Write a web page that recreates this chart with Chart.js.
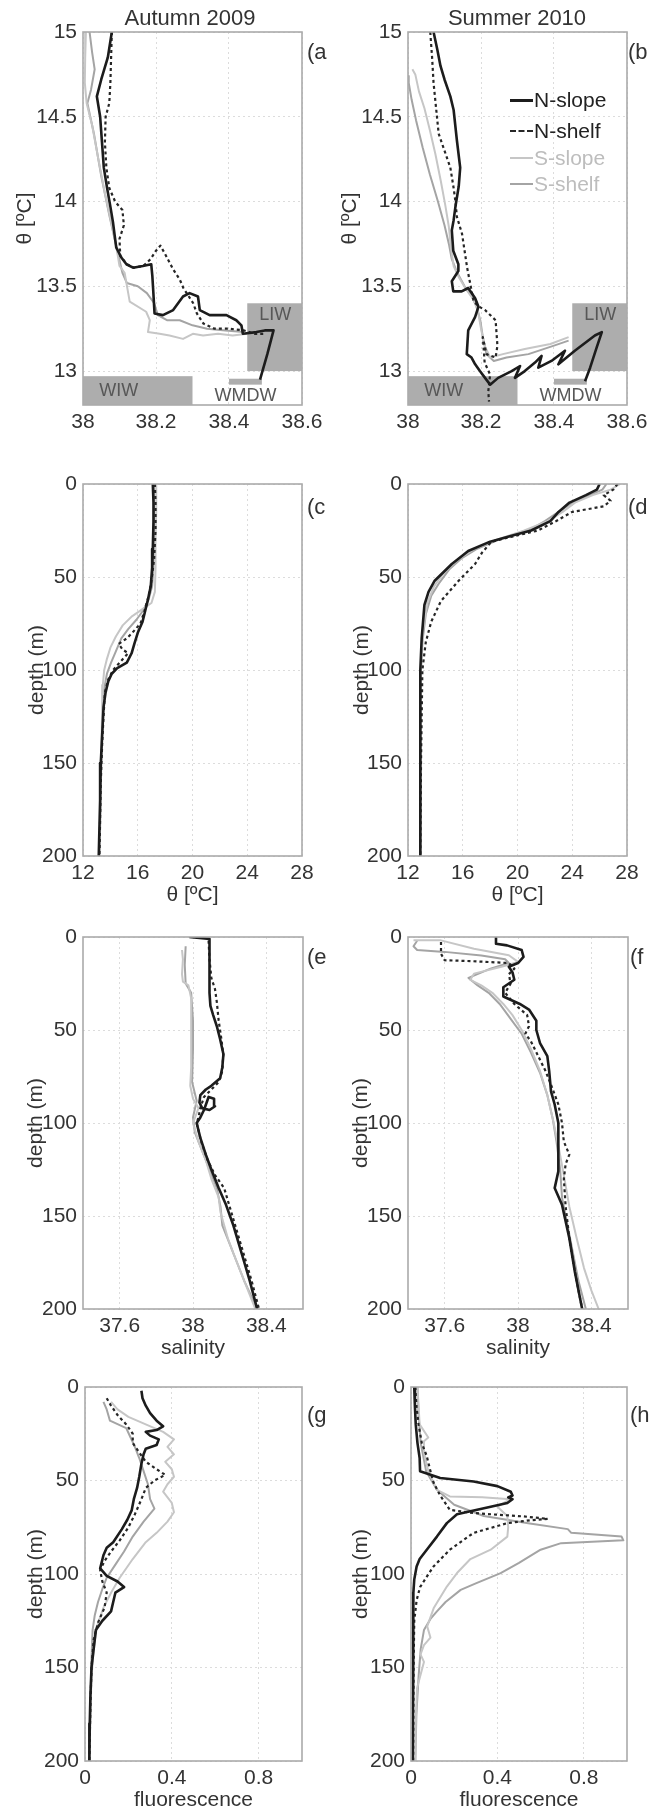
<!DOCTYPE html>
<html><head><meta charset="utf-8">
<script src="https://cdn.jsdelivr.net/npm/chart.js@4.4.1/dist/chart.umd.min.js"></script>
<style>
html,body{margin:0;padding:0;background:#fff}
body{width:655px;height:1814px;position:relative;overflow:hidden;font-family:"Liberation Sans",Arial,sans-serif;color:#333}
canvas{position:absolute}
.t{position:absolute;white-space:nowrap;line-height:26px}
</style></head><body>
<script>
// ---------- tick labels ----------
const thetaTicksTS = [13, 13.5, 14, 14.5, 15];
const salTicksTS = [38, 38.2, 38.4, 38.6];
const depthTicks = [0, 50, 100, 150, 200];
const thetaTicks = [12, 16, 20, 24, 28];
const salTicks = [37.6, 38, 38.4];
const fluoTicks = [0, 0.4, 0.8];

// ---------- categories ----------
const seriesNames = ['N-slope', 'N-shelf', 'S-slope', 'S-shelf'];
const columnTitles = ['Autumn 2009', 'Summer 2010'];
const waterMassNames = ['WIW', 'LIW', 'WMDW'];
const waterMassSal = [[38.0, 38.3], [38.45, 38.6], [38.4, 38.49]];
const waterMassTheta = [[12.7, 12.97], [13.0, 13.4], [12.92, 12.955]];

// ---------- (a) theta-S, Autumn 2009 : [salinity, theta] ----------
const aNslope = [[38.079,15.00],[38.068,14.85],[38.050,14.72],[38.038,14.62],[38.047,14.50],[38.052,14.35],[38.057,14.20],[38.066,14.08],[38.075,13.97],[38.082,13.88],[38.091,13.73],[38.105,13.67],[38.119,13.63],[38.137,13.61],[38.164,13.62],[38.187,13.63],[38.190,13.56],[38.192,13.49],[38.196,13.34],[38.219,13.33],[38.247,13.36],[38.274,13.44],[38.292,13.46],[38.315,13.44],[38.320,13.36],[38.347,13.33],[38.393,13.33],[38.420,13.30],[38.434,13.27],[38.438,13.22],[38.475,13.23],[38.498,13.24],[38.522,13.24],[38.505,13.10],[38.485,12.95]];
const aNshelf = [[38.079,15.00],[38.077,14.85],[38.075,14.70],[38.072,14.58],[38.062,14.50],[38.060,14.35],[38.064,14.20],[38.072,14.08],[38.088,14.00],[38.108,13.95],[38.112,13.86],[38.100,13.78],[38.102,13.68],[38.120,13.63],[38.140,13.61],[38.165,13.62],[38.185,13.66],[38.200,13.71],[38.212,13.74],[38.225,13.69],[38.247,13.60],[38.265,13.54],[38.275,13.49],[38.290,13.44],[38.302,13.40],[38.312,13.34],[38.330,13.28],[38.360,13.25],[38.400,13.25],[38.440,13.24],[38.470,13.22],[38.495,13.22]];
const aSslope = [[38.008,15.00],[38.006,14.85],[38.005,14.70],[38.010,14.58],[38.025,14.45],[38.042,14.25],[38.060,14.05],[38.075,13.90],[38.090,13.75],[38.100,13.62],[38.114,13.58],[38.123,13.47],[38.128,13.41],[38.173,13.35],[38.183,13.30],[38.178,13.23],[38.210,13.22],[38.237,13.21],[38.274,13.19],[38.301,13.22],[38.329,13.21],[38.370,13.22],[38.410,13.21],[38.450,13.22]];
const aSshelf = [[38.018,15.00],[38.025,14.88],[38.032,14.78],[38.022,14.66],[38.012,14.58],[38.030,14.40],[38.050,14.15],[38.072,13.92],[38.095,13.70],[38.108,13.58],[38.120,13.52],[38.150,13.50],[38.175,13.46],[38.195,13.40],[38.205,13.33],[38.230,13.30],[38.265,13.30],[38.300,13.27],[38.340,13.25],[38.390,13.24],[38.440,13.23]];

// ---------- (b) theta-S, Summer 2010 ----------
const bNslope = [[38.070,15.00],[38.080,14.90],[38.089,14.80],[38.100,14.72],[38.116,14.62],[38.125,14.54],[38.134,14.36],[38.143,14.20],[38.139,14.09],[38.130,13.97],[38.125,13.89],[38.120,13.83],[38.124,13.71],[38.138,13.63],[38.138,13.59],[38.120,13.53],[38.124,13.47],[38.147,13.47],[38.165,13.49],[38.184,13.43],[38.193,13.38],[38.184,13.32],[38.165,13.24],[38.161,13.10],[38.174,13.08],[38.184,13.04],[38.197,13.00],[38.211,12.96],[38.225,12.92],[38.247,12.96],[38.284,13.00],[38.307,13.03],[38.293,12.96],[38.320,13.00],[38.348,13.05],[38.366,13.09],[38.357,13.02],[38.393,13.06],[38.430,13.12],[38.412,13.04],[38.457,13.12],[38.512,13.21],[38.531,13.23],[38.517,13.14],[38.499,13.02],[38.485,12.94]];
const bNshelf = [[38.061,15.00],[38.066,14.85],[38.070,14.70],[38.077,14.55],[38.084,14.40],[38.100,14.30],[38.116,14.20],[38.125,14.08],[38.130,14.00],[38.134,13.91],[38.148,13.81],[38.155,13.71],[38.162,13.61],[38.171,13.51],[38.180,13.41],[38.195,13.38],[38.211,13.36],[38.240,13.30],[38.245,13.15],[38.240,13.08],[38.215,13.10],[38.205,13.20],[38.210,13.05],[38.225,12.98],[38.220,12.88],[38.222,12.82]];
const bSslope = [[38.012,14.78],[38.020,14.75],[38.030,14.65],[38.045,14.55],[38.060,14.42],[38.075,14.28],[38.090,14.12],[38.102,13.98],[38.112,13.85],[38.118,13.72],[38.125,13.62],[38.140,13.55],[38.160,13.48],[38.180,13.42],[38.192,13.35],[38.200,13.25],[38.210,13.15],[38.225,13.08],[38.260,13.10],[38.320,13.13],[38.390,13.16],[38.440,13.20]];
const bSshelf = [[38.000,14.74],[38.002,14.70],[38.010,14.60],[38.022,14.48],[38.040,14.32],[38.060,14.16],[38.082,14.00],[38.100,13.86],[38.112,13.75],[38.120,13.66],[38.135,13.58],[38.155,13.50],[38.175,13.44],[38.188,13.38],[38.198,13.30],[38.205,13.20],[38.215,13.10],[38.235,13.06],[38.270,13.08],[38.330,13.10],[38.400,13.15],[38.440,13.18]];

// ---------- (c) theta profile, Autumn 2009 : [theta, depth] ----------
const cNslope = [[17.1,0],[17.15,10],[17.15,20],[17.1,35],[17.05,45],[16.95,55],[16.75,62],[16.55,68],[16.35,74],[16.0,80],[15.75,86],[15.55,91],[15.2,96],[14.5,99],[14.1,102],[13.85,106],[13.65,112],[13.5,120],[13.4,135],[13.3,150],[13.25,170],[13.2,185],[13.15,200]];
const cNshelf = [[17.25,0],[17.3,10],[17.3,25],[17.2,40],[17.0,52],[16.8,60],[16.5,68],[16.2,75],[15.6,80],[15.2,83],[14.6,86],[14.9,89],[15.3,91],[14.8,95],[14.2,100],[13.85,105],[13.6,112],[13.5,125],[13.4,140],[13.3,160],[13.25,180],[13.2,200]];
const cSslope = [[17.35,0],[17.35,15],[17.3,30],[17.3,45],[17.25,58],[17.0,64],[16.4,67],[15.6,71],[14.9,76],[14.4,82],[14.0,88],[13.75,94],[13.55,100],[13.45,108],[13.4,120],[13.35,140],[13.3,160],[13.25,180],[13.2,200]];
const cSshelf = [[17.2,0],[17.2,15],[17.2,30],[17.15,45],[17.05,55],[16.8,62],[16.4,68],[15.9,73],[15.3,78],[14.8,83],[14.4,90],[14.05,96],[13.75,102],[13.55,110],[13.45,125],[13.35,145],[13.3,165],[13.25,185],[13.2,200]];

// ---------- (d) theta profile, Summer 2010 ----------
const dNslope = [[26.0,0],[25.8,3],[25.0,6],[23.8,10],[23.0,15],[22.4,20],[21.0,25],[19.5,28],[18.0,31],[16.4,36],[15.2,43],[13.95,52],[13.5,58],[13.2,65],[13.0,83],[12.9,100],[12.9,150],[12.9,200]];
const dNshelf = [[27.3,0],[27.0,3],[26.3,6],[26.8,9],[26.3,12],[24.0,15],[22.8,20],[21.5,25],[19.5,28.5],[18.1,31],[17.4,37],[16.9,43],[15.7,52],[14.4,63],[13.7,74],[13.3,85],[13.05,100],[12.95,150],[12.9,200]];
const dSslope = [[27.5,0],[26.8,3],[25.5,6],[24.2,10],[23.3,15],[22.2,20],[20.5,25],[18.5,30],[16.8,35],[15.6,41],[14.6,48],[13.9,55],[13.4,64],[13.1,78],[12.95,100],[12.9,200]];
const dSshelf = [[26.5,0],[26.2,3],[25.3,6],[24.0,10],[23.0,15],[22.0,20],[20.8,25],[18.6,30],[17.0,35],[15.9,40],[15.0,46],[14.3,53],[13.7,60],[13.3,70],[13.05,85],[12.95,100],[12.9,200]];

// ---------- (e) salinity profile, Autumn 2009 : [salinity, depth] ----------
const eNslope = [[37.98,0],[38.09,1],[38.09,10],[38.09,20],[38.09,30],[38.095,37],[38.11,42],[38.13,48],[38.148,55],[38.166,63],[38.16,70],[38.148,76],[38.1,80],[38.07,82],[38.04,85],[38.035,89],[38.05,92],[38.09,93],[38.12,91],[38.115,87],[38.085,86],[38.06,93],[38.04,97],[38.02,100],[38.04,108],[38.07,117],[38.1,125],[38.14,135],[38.18,144],[38.22,155],[38.25,165],[38.28,175],[38.31,185],[38.35,200]];
const eNshelf = [[38.085,2],[38.09,12],[38.1,22],[38.12,28],[38.13,35],[38.14,45],[38.155,55],[38.165,63],[38.16,72],[38.14,78],[38.1,82],[38.06,86],[38.04,92],[38.03,97],[38.02,100],[38.045,110],[38.08,120],[38.12,128],[38.17,135],[38.2,145],[38.23,155],[38.26,165],[38.29,175],[38.32,185],[38.36,200]];
const eSslope = [[37.94,7],[37.945,12],[37.94,20],[37.945,24],[37.975,26],[37.99,33],[37.99,50],[37.99,70],[37.985,80],[38.0,87],[38.03,92],[38.0,100],[38.03,110],[38.07,120],[38.1,130],[38.14,140],[38.15,148],[38.17,155],[38.19,162],[38.22,170],[38.26,180],[38.3,190],[38.34,200]];
const eSshelf = [[37.96,5],[37.955,15],[37.96,25],[37.99,30],[38.0,45],[38.0,60],[37.995,78],[38.02,88],[38.0,97],[38.01,105],[38.05,115],[38.09,125],[38.13,135],[38.15,145],[38.16,155],[38.2,165],[38.24,175],[38.28,185],[38.35,200]];

// ---------- (f) salinity profile, Summer 2010 ----------
const fNslope = [[37.88,0],[37.88,3.6],[37.94,4.5],[38.02,7],[38.03,10.7],[38.0,14],[37.95,16],[37.97,19],[37.98,23],[37.92,27],[37.92,32],[38.01,36],[38.06,39],[38.1,45],[38.1,50],[38.12,57],[38.16,64],[38.17,72],[38.18,83],[38.2,90],[38.22,100],[38.22,110],[38.22,126],[38.2,135],[38.24,144],[38.28,162],[38.31,180],[38.35,200]];
const fNshelf = [[37.58,2.7],[37.58,6],[37.58,9],[37.6,12.5],[37.75,13],[37.95,14],[37.98,17],[37.95,20],[37.96,25],[37.93,30],[37.98,36],[38.05,42],[38.06,48],[38.04,52],[38.07,56],[38.1,62],[38.15,72],[38.19,82],[38.22,90],[38.24,100],[38.25,110],[38.28,117],[38.26,122],[38.25,130],[38.26,145],[38.28,162],[38.31,180],[38.35,200]];
const fSslope = [[37.43,1.8],[37.58,1.8],[37.76,6.3],[37.95,9.8],[38.0,13.4],[37.91,16],[37.76,19.7],[37.74,23],[37.8,26],[37.86,30],[37.92,36],[37.97,42],[38.02,50],[38.07,60],[38.12,72],[38.16,85],[38.19,98],[38.22,112],[38.25,128],[38.28,145],[38.32,162],[38.36,178],[38.4,190],[38.44,200]];
const fSshelf = [[37.45,2],[37.43,5],[37.45,7],[37.6,8],[37.8,10],[37.93,12],[37.95,14],[37.85,17],[37.73,22],[37.78,26],[37.84,30],[37.9,36],[37.96,44],[38.02,52],[38.07,62],[38.12,73],[38.16,85],[38.19,98],[38.21,110],[38.23,125],[38.24,140],[38.27,155],[38.3,170],[38.33,185],[38.37,200]];

// ---------- (g) fluorescence, Autumn 2009 : [fluorescence, depth] ----------
const gNslope = [[0.26,2],[0.265,6],[0.28,10],[0.3,14],[0.33,18],[0.36,21],[0.33,23],[0.28,24],[0.3,26],[0.34,28],[0.33,31],[0.28,33],[0.27,36],[0.26,41],[0.25,48],[0.24,54],[0.225,60],[0.215,66],[0.195,71],[0.17,76],[0.13,83],[0.1,86],[0.085,90],[0.07,97],[0.1,101],[0.15,104],[0.18,107],[0.14,110],[0.13,115],[0.12,120],[0.08,125],[0.05,130],[0.04,140],[0.03,150],[0.025,165],[0.022,180],[0.02,200]];
const gNshelf = [[0.1,6],[0.12,10],[0.15,15],[0.19,20],[0.22,25],[0.22,30],[0.25,35],[0.28,40],[0.33,44],[0.37,47],[0.32,50],[0.28,54],[0.26,60],[0.23,68],[0.2,75],[0.16,82],[0.12,88],[0.09,93],[0.07,98],[0.08,104],[0.1,110],[0.09,118],[0.06,126],[0.04,135],[0.03,150],[0.025,170],[0.02,200]];
const gSslope = [[0.12,8],[0.15,12],[0.2,16],[0.28,20],[0.36,24],[0.41,28],[0.38,32],[0.41,36],[0.37,40],[0.4,44],[0.41,48],[0.38,52],[0.36,56],[0.4,62],[0.41,67],[0.38,72],[0.33,78],[0.28,83],[0.22,92],[0.16,102],[0.12,110],[0.085,118],[0.055,128],[0.04,140],[0.03,155],[0.025,175],[0.02,200]];
const gSshelf = [[0.085,8],[0.1,12],[0.115,18],[0.19,22],[0.21,27],[0.23,32],[0.25,38],[0.27,45],[0.29,52],[0.3,60],[0.32,65],[0.27,72],[0.22,80],[0.18,88],[0.14,95],[0.1,102],[0.08,108],[0.06,115],[0.045,122],[0.035,130],[0.03,145],[0.025,170],[0.02,200]];

// ---------- (h) fluorescence, Summer 2010 ----------
const hNslope = [[0.015,0],[0.018,10],[0.022,20],[0.03,30],[0.04,38],[0.042,45],[0.135,48.7],[0.29,50.5],[0.40,53],[0.462,56],[0.47,58],[0.45,59],[0.47,60],[0.446,62],[0.369,64],[0.275,66.5],[0.213,68],[0.166,72.8],[0.12,80],[0.073,87],[0.04,92],[0.026,96],[0.015,103],[0.011,110],[0.01,130],[0.01,160],[0.008,200]];
const hNshelf = [[0.02,0],[0.025,10],[0.035,20],[0.05,30],[0.073,37],[0.09,45],[0.104,51],[0.135,58],[0.18,65.7],[0.29,67.4],[0.40,68.3],[0.52,69.2],[0.633,70.5],[0.55,71.3],[0.446,72.8],[0.29,78],[0.18,87],[0.104,96],[0.042,107],[0.026,114],[0.015,125],[0.012,150],[0.01,200]];
const hSslope = [[0.03,0],[0.035,10],[0.04,20],[0.08,27],[0.06,29],[0.06,35],[0.08,45],[0.12,55],[0.18,58.5],[0.33,59],[0.46,60],[0.40,64],[0.446,69],[0.45,75],[0.446,80],[0.369,87],[0.275,92],[0.213,99.5],[0.166,106.7],[0.106,118],[0.075,128],[0.09,134],[0.06,138],[0.044,143],[0.06,147],[0.028,161],[0.022,180],[0.02,200]];
const hSshelf = [[0.03,0],[0.035,15],[0.045,30],[0.07,45],[0.12,55],[0.2,63],[0.337,69],[0.55,73],[0.726,76],[0.742,78],[0.975,80],[0.983,82],[0.695,83.5],[0.60,87],[0.5,94],[0.415,99.5],[0.3,105],[0.23,108.5],[0.16,115],[0.12,120],[0.09,124],[0.06,130],[0.045,140],[0.035,155],[0.025,175],[0.02,200]];

// ---------- styling / layout ----------
Chart.defaults.font.family = '"Liberation Sans", Arial, sans-serif';
Chart.defaults.font.size = 21;
Chart.defaults.color = '#333';

const lineStyles = [
  {color:'#1c1c1c', width:2.6, dash:[]},
  {color:'#262626', width:2.2, dash:[3,3]},
  {color:'#c6c6c6', width:2, dash:[]},
  {color:'#a4a4a4', width:2, dash:[]}
];
const legendTextColors = ['#222', '#222', '#bdbdbd', '#bdbdbd'];

const waterBoxes = waterMassNames.map((n,i)=>({
  label:n, s:waterMassSal[i], t:waterMassTheta[i],
  at: [[38.098,12.885],[38.527,13.33],[38.445,12.85]][i]
}));

const panels = [
  {tag:'a', L:83, T:32, R:302, B:405, xr:[38,38.6], xt:salTicksTS, yr:[12.8,15], yt:thetaTicksTS, rev:false, s:[aNslope,aNshelf,aSslope,aSshelf], xTitle:'', yTitle:'θ [ºC]', yTitleX:25, boxes:true},
  {tag:'b', L:408, T:32, R:627, B:405, xr:[38,38.6], xt:salTicksTS, yr:[12.8,15], yt:thetaTicksTS, rev:false, s:[bNslope,bNshelf,bSslope,bSshelf], xTitle:'', yTitle:'θ [ºC]', yTitleX:350, boxes:true},
  {tag:'c', L:83, T:484, R:302, B:856, xr:[12,28], xt:thetaTicks, yr:[0,200], yt:depthTicks, rev:true, s:[cNslope,cNshelf,cSslope,cSshelf], xTitle:'θ [ºC]', yTitle:'depth (m)', yTitleX:37},
  {tag:'d', L:408, T:484, R:627, B:856, xr:[12,28], xt:thetaTicks, yr:[0,200], yt:depthTicks, rev:true, s:[dNslope,dNshelf,dSslope,dSshelf], xTitle:'θ [ºC]', yTitle:'depth (m)', yTitleX:362},
  {tag:'e', L:83, T:937, R:303, B:1309, xr:[37.4,38.6], xt:salTicks, yr:[0,200], yt:depthTicks, rev:true, s:[eNslope,eNshelf,eSslope,eSshelf], xTitle:'salinity', yTitle:'depth (m)', yTitleX:36},
  {tag:'f', L:408, T:937, R:628, B:1309, xr:[37.4,38.6], xt:salTicks, yr:[0,200], yt:depthTicks, rev:true, s:[fNslope,fNshelf,fSslope,fSshelf], xTitle:'salinity', yTitle:'depth (m)', yTitleX:361},
  {tag:'g', L:85, T:1387, R:302, B:1761, xr:[0,1], xt:fluoTicks, yr:[0,200], yt:depthTicks, rev:true, s:[gNslope,gNshelf,gSslope,gSshelf], xTitle:'fluorescence', yTitle:'depth (m)', yTitleX:36},
  {tag:'h', L:411, T:1387, R:627, B:1761, xr:[0,1], xt:fluoTicks, yr:[0,200], yt:depthTicks, rev:true, s:[hNslope,hNshelf,hSslope,hSshelf], xTitle:'fluorescence', yTitle:'depth (m)', yTitleX:361}
];

const framePlugin = {
  id:'frame',
  beforeDatasetsDraw(chart, args, opts){
    if (!opts.boxes) return;
    const {ctx, chartArea:a, scales:{x, y}} = chart;
    ctx.save();
    ctx.beginPath(); ctx.rect(a.left, a.top, a.right-a.left, a.bottom-a.top); ctx.clip();
    ctx.fillStyle = '#adadad';
    for (const b of opts.boxes){
      const x0 = x.getPixelForValue(b.s[0]), x1 = x.getPixelForValue(b.s[1]);
      const y0 = y.getPixelForValue(b.t[0]), y1 = y.getPixelForValue(b.t[1]);
      ctx.fillRect(Math.min(x0,x1), Math.min(y0,y1), Math.abs(x1-x0), Math.abs(y1-y0));
    }
    ctx.fillStyle = '#575757';
    ctx.font = '18px "Liberation Sans", Arial, sans-serif';
    ctx.textAlign = 'center'; ctx.textBaseline = 'middle';
    for (const b of opts.boxes){
      ctx.fillText(b.label, x.getPixelForValue(b.at[0]), y.getPixelForValue(b.at[1]));
    }
    ctx.restore();
  },
  afterDraw(chart){
    const {ctx, chartArea:a} = chart;
    ctx.save();
    ctx.strokeStyle = '#ababab'; ctx.lineWidth = 1.6;
    ctx.strokeRect(a.left, a.top, a.right-a.left, a.bottom-a.top);
    ctx.restore();
  }
};

const fmt = v => String(Math.round(v*1000)/1000);
const AXW = 80, AXH = 60, PADT = 20, PADR = 28;

function makePanel(p){
  const c = document.createElement('canvas');
  const w = p.R - p.L + AXW + PADR, h = p.B - p.T + PADT + AXH;
  c.width = w; c.height = h;
  c.style.left = (p.L - AXW) + 'px'; c.style.top = (p.T - PADT) + 'px';
  c.style.width = w + 'px'; c.style.height = h + 'px';
  document.body.appendChild(c);
  const yPadTop = (p.yTitleX - (p.L - AXW)) - 12.6;
  new Chart(c, {
    type:'scatter',
    data:{datasets: p.s.map((arr,i)=>({
      label: seriesNames[i],
      data: arr.map(([x,y])=>({x, y})),
      showLine:true, pointRadius:0, pointHoverRadius:0, tension:0, fill:false,
      borderColor: lineStyles[i].color, borderWidth: lineStyles[i].width, borderDash: lineStyles[i].dash,
      borderJoinStyle:'round', borderCapStyle:'butt'
    }))},
    options:{
      responsive:false, animation:false, devicePixelRatio:1, events:[],
      layout:{padding:{left:0, top:PADT, right:PADR, bottom:0}},
      plugins:{legend:{display:false}, tooltip:{enabled:false}, frame:{boxes: p.boxes ? waterBoxes : null}},
      scales:{
        x:{
          type:'linear', position:'bottom', min:p.xr[0], max:p.xr[1],
          afterFit: s => { s.height = AXH; },
          afterBuildTicks: s => { s.ticks = p.xt.map(v=>({value:v})); },
          grid:{color:'#dcdcdc', lineWidth:1, drawTicks:false},
          border:{display:false, dash:[2,3]},
          ticks:{padding:5, color:'#333', maxRotation:0, autoSkip:false, callback: fmt},
          title:{display: !!p.xTitle, text: p.xTitle, color:'#333', font:{size:21}, padding:{top:0, bottom:8.4}}
        },
        y:{
          type:'linear', position:'left', min:p.yr[0], max:p.yr[1], reverse:p.rev,
          afterFit: s => { s.width = AXW; },
          afterBuildTicks: s => { s.ticks = p.yt.map(v=>({value:v})); },
          grid:{color:'#dcdcdc', lineWidth:1, drawTicks:false},
          border:{display:false, dash:[2,3]},
          ticks:{padding:6, color:'#333', autoSkip:false, callback: fmt},
          title:{display:true, text:p.yTitle, color:'#333', font:{size:21}, padding:{top:yPadTop, bottom:0}}
        }
      }
    },
    plugins:[framePlugin]
  });
}
panels.forEach(makePanel);

// ---------- text: column titles, panel tags, legend ----------
function addText(txt, x, y, opts){
  const d = document.createElement('div');
  d.className = 't';
  d.textContent = txt;
  d.style.left = x + 'px'; d.style.top = (y - 13) + 'px';
  d.style.fontSize = (opts && opts.size || 22) + 'px';
  if (opts && opts.center) d.style.transform = 'translateX(-50%)';
  if (opts && opts.color) d.style.color = opts.color;
  document.body.appendChild(d);
  return d;
}
addText(columnTitles[0], 190, 18, {center:true, size:22});
addText(columnTitles[1], 517, 18, {center:true, size:22});
const tagPos = {a:[307,52], b:[628,52], c:[307,507], d:[628,507], e:[307,957], f:[630,957], g:[307,1415], h:[630,1415]};
panels.forEach(p => addText('(' + p.tag, tagPos[p.tag][0], tagPos[p.tag][1], {size:22}));

const legendRows = [100, 131, 158, 184];
seriesNames.forEach((n,i)=>{
  const ln = document.createElement('div');
  ln.style.position = 'absolute';
  ln.style.left = '510px'; ln.style.width = '23px';
  ln.style.top = (legendRows[i] - 1) + 'px';
  ln.style.borderTop = lineStyles[i].width.toFixed(0) + 'px ' + (lineStyles[i].dash.length ? 'dashed ' : 'solid ') + lineStyles[i].color;
  document.body.appendChild(ln);
  addText(n, 534, legendRows[i], {size:21, color: legendTextColors[i]});
});
</script>
</body></html>
